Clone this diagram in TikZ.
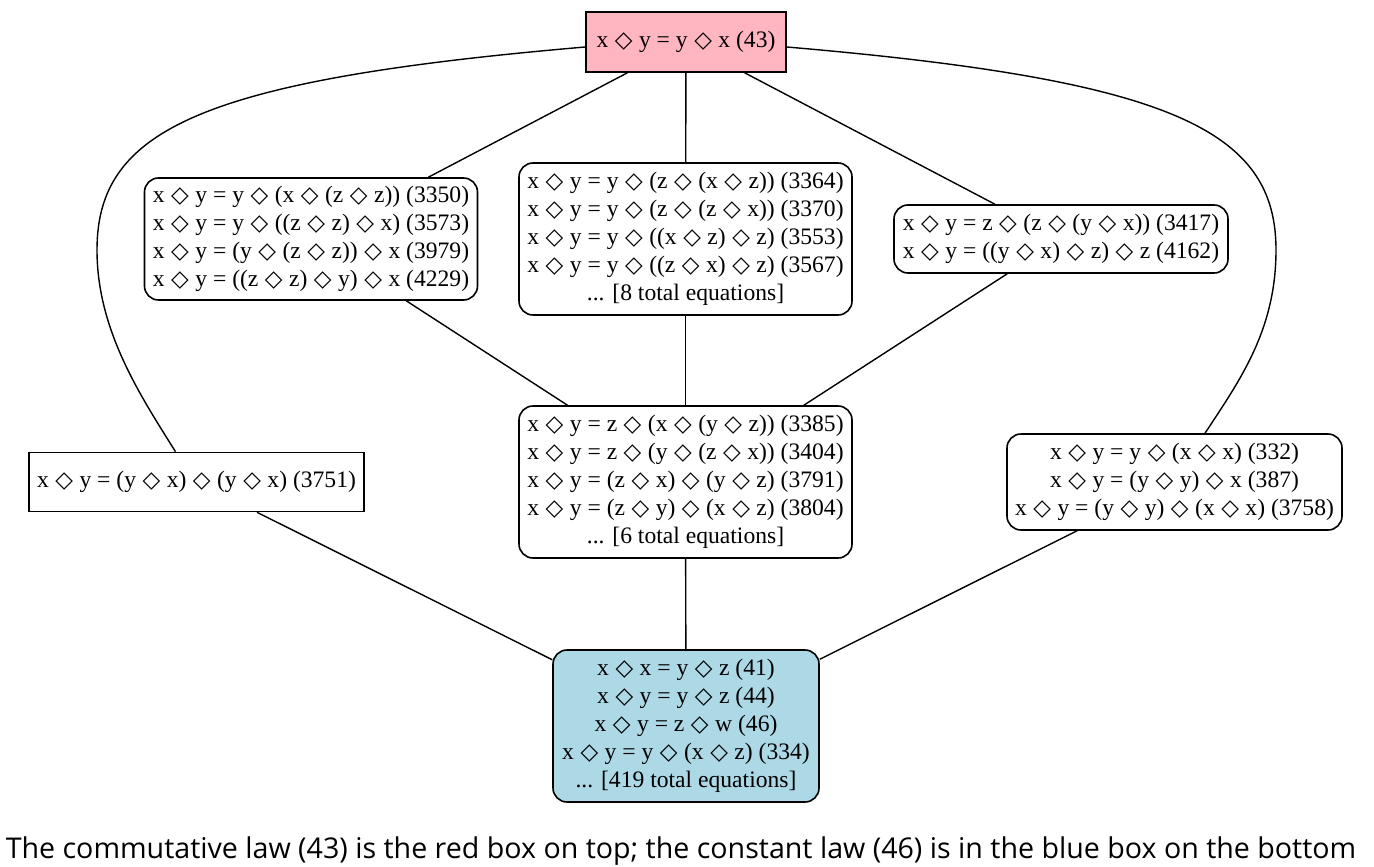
\documentclass[tikz,border=0pt]{standalone}
\usepackage{fontspec}
\setmainfont{Liberation Serif}
\newfontfamily\symfont{DejaVu Sans}
\newfontfamily\capfont{Open Sans}
\usepackage{tikz}
\usetikzlibrary{shapes,calc,positioning}
\definecolor{lawred}{HTML}{FFB6C1}
\definecolor{lawblue}{HTML}{ADD8E6}
\newcommand{\dmd}{\kern0.6pt{\symfont\fontsize{23}{23}\selectfont\char"25C7}\kern0.6pt}
\newcommand{\eqfont}{\fontsize{23.6}{28}\selectfont}
\tikzset{sqbox/.style={draw, line width=1.6pt, align=center, inner sep=2pt, font=\eqfont}}
\tikzset{eqbox/.style={sqbox, rounded corners=14pt}}
\tikzset{line/.style={draw, line width=1.4pt}}
\begin{document}
\begin{tikzpicture}[x=1pt,y=-1pt]
			\useasboundingbox (0,0) rectangle (1374,867);
			\node [sqbox, fill=lawred, minimum width=200, minimum height=60] (comm) at (686,42) {x \dmd{} y = y \dmd{} x (43)};
			\node [eqbox, minimum width=333, minimum height=122] (lawA) at (311,239) {x \dmd{} y = y \dmd{} (x \dmd{} (z \dmd{} z)) (3350)\\ x \dmd{} y = y \dmd{} ((z \dmd{} z) \dmd{} x) (3573)\\ x \dmd{} y = (y \dmd{} (z \dmd{} z)) \dmd{} x (3979)\\ x \dmd{} y = ((z \dmd{} z) \dmd{} y) \dmd{} x (4229)};
			\node [eqbox, minimum width=333, minimum height=152] (lawB) at (685.5,239) {x \dmd{} y = y \dmd{} (z \dmd{} (x \dmd{} z)) (3364)\\ x \dmd{} y = y \dmd{} (z \dmd{} (z \dmd{} x)) (3370)\\ x \dmd{} y = y \dmd{} ((x \dmd{} z) \dmd{} z) (3553)\\ x \dmd{} y = y \dmd{} ((z \dmd{} x) \dmd{} z) (3567)\\ ... [8 total equations]};
			\node [eqbox, minimum width=334, minimum height=68] (lawC) at (1061,239) {x \dmd{} y = z \dmd{} (z \dmd{} (y \dmd{} x)) (3417)\\ x \dmd{} y = ((y \dmd{} x) \dmd{} z) \dmd{} z (4162)};
			\node [sqbox, minimum width=335, minimum height=59] (lawD) at (196.5,482) {x \dmd{} y = (y \dmd{} x) \dmd{} (y \dmd{} x) (3751)};
			\node [eqbox, minimum width=333, minimum height=152] (lawE) at (685.5,482) {x \dmd{} y = z \dmd{} (x \dmd{} (y \dmd{} z)) (3385)\\ x \dmd{} y = z \dmd{} (y \dmd{} (z \dmd{} x)) (3404)\\ x \dmd{} y = (z \dmd{} x) \dmd{} (y \dmd{} z) (3791)\\ x \dmd{} y = (z \dmd{} y) \dmd{} (x \dmd{} z) (3804)\\ ... [6 total equations]};
			\node [eqbox, minimum width=335, minimum height=96] (lawF) at (1174.5,482) {x \dmd{} y = y \dmd{} (x \dmd{} x) (332)\\ x \dmd{} y = (y \dmd{} y) \dmd{} x (387)\\ x \dmd{} y = (y \dmd{} y) \dmd{} (x \dmd{} x) (3758)};
			\node [eqbox, fill=lawblue, minimum width=266, minimum height=152] (const) at (686,726) {x \dmd{} x = y \dmd{} z (41)\\ x \dmd{} y = y \dmd{} z (44)\\ x \dmd{} y = z \dmd{} w (46)\\ x \dmd{} y = y \dmd{} (x \dmd{} z) (334)\\ ... [419 total equations]};
			\node [anchor=base, font=\capfont\fontsize{28.6}{28.6}\selectfont] (caption) at (681,858) {The commutative law (43) is the red box on top; the constant law (46) is in the blue box on the bottom};
			%
			\path [line] (comm) -- (lawA);
			\path [line] (comm) -- (lawB);
			\path [line] (comm) -- (lawC);
			\path [line] ([yshift=-5pt]comm.west) .. controls (200,80) and (97,130) .. (97,250) .. controls (97,330) and (140,395) .. ([xshift=-21pt]lawD.north);
			\path [line] ([yshift=-5pt]comm.east) .. controls (1172,80) and (1276,130) .. (1276,250) .. controls (1276,330) and (1240,380) .. ([xshift=30.5pt]lawF.north);
			\path [line] (lawA) -- (lawE);
			\path [line] (lawB) -- (lawE);
			\path [line] (lawC) -- (lawE);
			\path [line] (lawD) -- (const);
			\path [line] (lawE) -- (const);
			\path [line] (lawF) -- (const);
			\end{tikzpicture}
\end{document}
